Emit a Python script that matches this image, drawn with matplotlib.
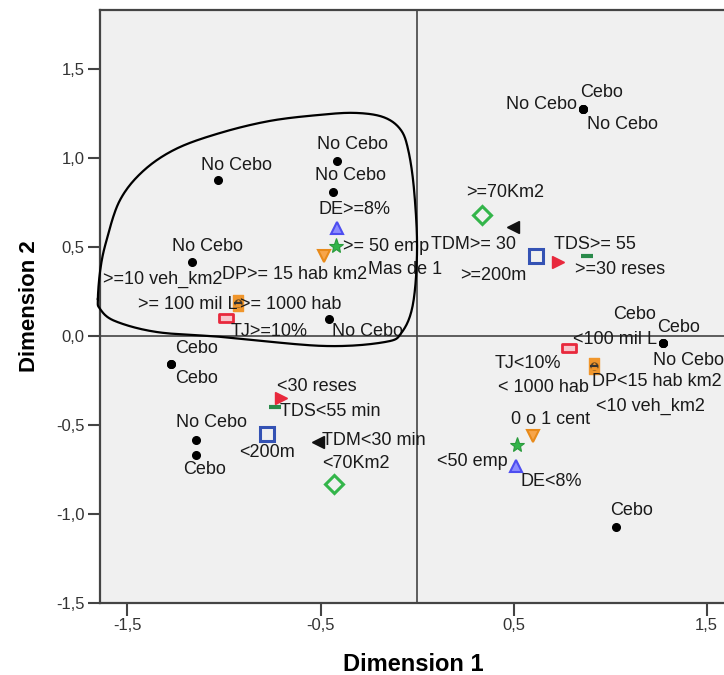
import numpy as np
import matplotlib
matplotlib.use("Agg")
import matplotlib.pyplot as plt
from matplotlib.path import Path
from matplotlib.ticker import FuncFormatter

plt.rcParams['font.family'] = ['Liberation Sans', 'DejaVu Sans']

# object points (overlapping objects repeated)
obj_x = [-1.03, -0.415, -0.435, -1.166, -0.456, -1.275, -1.275, -1.145, -1.145,
         0.862, 0.862, 0.862, 1.275, 1.275, 1.275, 1.03]
obj_y = [0.876, 0.983, 0.809, 0.416, 0.096, -0.157, -0.157, -0.584, -0.669,
         1.275, 1.275, 1.275, -0.039, -0.039, -0.039, -1.073]
obj_label = ["No Cebo", "No Cebo", "No Cebo", "No Cebo", "No Cebo", "Cebo", "Cebo",
             "No Cebo", "Cebo", "No Cebo", "Cebo", "No Cebo", "Cebo", "Cebo",
             "No Cebo", "Cebo"]

# category points
cat_label = ["DE>=8%", "DE<8%", ">= 50 emp", "<50 emp", "Mas de 1", "0 o 1 cent",
             "TJ>=10%", "TJ<10%", ">=70Km2", "<70Km2", "TDM>= 30", "TDM<30 min",
             ">=200m", "<200m", "TDS>= 55", "TDS<55 min", ">=30 reses", "<30 reses",
             "DP>= 15 hab km2", "DP<15 hab km2", ">=10 veh_km2", "<10 veh_km2",
             ">= 100 mil L", "<100 mil L", ">= 1000 hab", "< 1000 hab"]
cat_x = [-0.415, 0.513, -0.42, 0.518, -0.482, 0.601,
         -0.99, 0.788, 0.337, -0.430, 0.497, -0.513,
         0.617, -0.777, 0.881, -0.736, 0.731, -0.705,
         -0.927, 0.917, -0.927, 0.917,
         -0.927, 0.917, -0.927, 0.917]
cat_y = [0.607, -0.730, 0.506, -0.612, 0.449, -0.562,
         0.101, -0.067, 0.680, -0.831, 0.612, -0.596,
         0.449, -0.551, 0.449, -0.399, 0.416, -0.348,
         0.185, -0.169, 0.185, -0.169,
         0.185, -0.169, 0.185, -0.169]
cat_var = ["DE", "DE", "emp", "emp", "cent", "cent", "TJ", "TJ", "km2", "km2",
           "TDM", "TDM", "dist", "dist", "TDS", "TDS", "reses", "reses",
           "DP", "DP", "veh", "veh", "milL", "milL", "hab", "hab"]

# label placement (pixels from the point) and alignment
obj_off = [(18, 15, 'center'), (16, 16, 'center'), (17, 16, 'center'), (16, 15, 'center'),
           (38, -13, 'center'), (26, 15, 'center'), (26, -15, 'center'), (16, 17, 'center'),
           (9, -14, 'center'), (-42, 4, 'center'), (18, 16, 'center'), (39, -16, 'center'),
           (-29, 28, 'center'), (15, 15, 'center'), (25, -18, 'center'), (16, 16, 'center')]
cat_off = [(18, 18, 'center'), (35, -16, 'center'), (7, -1, 'left'), (-45, -17, 'center'),
           (44, -13, 'left'), (17, 17, 'center'), (43, -14, 'center'), (-41, -16, 'center'),
           (23, 22, 'center'), (22, 20, 'center'), (-40, -17, 'center'), (4, 2, 'left'),
           (-43, -19, 'center'), (0, -18, 'center'), (8, 12, 'center'), (55, -5, 'center'),
           (62, -8, 'center'), (36, 11, 'center'), (57, 29, 'center'), (-2, -15, 'left'),
           (-16, 24, 'right'), (2, -40, 'left'), (-1, -1, 'right'), (21, 27, 'center'),
           (2, -1, 'left'), (-51, -21, 'center')]

rect_h = Path([(-1, -0.55), (1, -0.55), (1, 0.55), (-1, 0.55), (-1, -0.55)],
              [1, 2, 2, 2, 79])
rect_v = Path([(-0.6, -1), (0.6, -1), (0.6, 1), (-0.6, 1), (-0.6, -1)],
              [1, 2, 2, 2, 79])

styles = {
    "DE": dict(marker='^', ms=9, mfc='#8c8cff', mec='#4d4df0', mew=1.5),
    "emp": dict(marker='*', ms=11, mfc='#33b54a', mec='#2a9a3c', mew=0.8),
    "cent": dict(marker='v', ms=9, mfc='#f7a54a', mec='#e88a1a', mew=1.5),
    "TJ": dict(marker=rect_h, ms=10, mfc='#f6c6cc', mec='#e8283c', mew=2),
    "km2": dict(marker='D', ms=9, mfc='none', mec='#33b54a', mew=2.2),
    "TDM": dict(marker='<', ms=9, mfc='#111111', mec='#111111', mew=1),
    "dist": dict(marker='s', ms=10, mfc='none', mec='#3452b4', mew=2.2),
    "TDS": dict(marker='_', ms=9, mfc='#2a8a4a', mec='#2a8a4a', mew=3),
    "reses": dict(marker='>', ms=9, mfc='#e8283c', mec='#e8283c', mew=1),
    "DP": dict(marker=rect_v, ms=11, mfc='#f0962c', mec='#f0962c', mew=1),
    "veh": dict(marker='o', ms=5, mfc='#6a4a20', mec='#6a4a20', mew=1),
    "milL": dict(marker='^', ms=5, mfc='#f0962c', mec='#f0962c', mew=1),
    "hab": dict(marker='_', ms=6, mfc='#333333', mec='#333333', mew=1.5),
}

# hand-drawn loop round the left cluster
loop_x = [-1.653, -1.640, -1.610, -1.540, -1.420, -1.250, -1.021, -0.762, -0.503,
          -0.321, -0.176, -0.088, -0.047, -0.016, 0.000, -0.021, -0.078, -0.166,
          -0.487, -1.005, -1.347, -1.565, -1.642]
loop_y = [0.208, 0.376, 0.530, 0.760, 0.925, 1.050, 1.140, 1.208, 1.242,
          1.253, 1.230, 1.163, 1.051, 0.826, 0.489, 0.180, 0.022, -0.034,
          -0.056, -0.006, 0.022, 0.084, 0.152]


def closed_spline(xs, ys, n=20):
    p = np.column_stack([xs, ys])
    m = len(p)
    out = []
    for i in range(m):
        p0, p1, p2, p3 = p[i - 1], p[i], p[(i + 1) % m], p[(i + 2) % m]
        t = np.linspace(0, 1, n, endpoint=False)[:, None]
        out.append(0.5 * ((2 * p1) + (-p0 + p2) * t + (2 * p0 - 5 * p1 + 4 * p2 - p3) * t ** 2
                          + (-p0 + 3 * p1 - 3 * p2 + p3) * t ** 3))
    out = np.vstack(out + [out[0][:1]])
    return out[:, 0], out[:, 1]


fig = plt.figure(figsize=(7.24, 6.75), dpi=100)
ax = fig.add_axes([100 / 724, 72 / 675, 626 / 724, 593 / 675])
ax.set_facecolor('#f0f0f0')
ax.set_xlim(-1.642, 1.60)
ax.set_ylim(-1.5, 1.831)

ax.axhline(0, color='#444444', lw=1.2, zorder=1)
ax.axvline(0, color='#444444', lw=1.2, zorder=1)

ax.plot(obj_x, obj_y, 'o', color='black', ms=5.5, zorder=3)
for x, y, t, (dx, dy, ha) in zip(obj_x, obj_y, obj_label, obj_off):
    ax.annotate(t, (x, y), xytext=(dx, dy), textcoords='offset pixels',
                ha=ha, va='center', fontsize=13, color='#1a1a1a', zorder=4)

for x, y, v in zip(cat_x, cat_y, cat_var):
    ax.plot([x], [y], ls='none', zorder=3, **styles[v])
for x, y, t, (dx, dy, ha) in zip(cat_x, cat_y, cat_label, cat_off):
    ax.annotate(t, (x, y), xytext=(dx, dy), textcoords='offset pixels',
                ha=ha, va='center', fontsize=13, color='#1a1a1a', zorder=4)

lx, ly = closed_spline(loop_x, loop_y)
ax.plot(lx, ly, color='black', lw=1.6, clip_on=False, zorder=5)

ax.set_xticks([-1.5, -0.5, 0.5, 1.5])
ax.set_yticks([-1.5, -1.0, -0.5, 0.0, 0.5, 1.0, 1.5])
fmt = FuncFormatter(lambda v, p: f"{v:.1f}".replace('.', ','))
ax.xaxis.set_major_formatter(fmt)
ax.yaxis.set_major_formatter(fmt)
ax.tick_params(direction='out', length=9, width=1.5, color='#444444',
               labelsize=12, labelcolor='#333333', pad=2)

for s in ['left', 'bottom', 'top']:
    ax.spines[s].set_color('#444444')
    ax.spines[s].set_linewidth(1.6)
ax.spines['right'].set_visible(False)

ax.set_xlabel("Dimension 1", fontsize=17, fontweight='bold', labelpad=14)
ax.set_ylabel("Dimension 2", fontsize=16, fontweight='bold', labelpad=12)

fig.savefig("out.png", dpi=100)
